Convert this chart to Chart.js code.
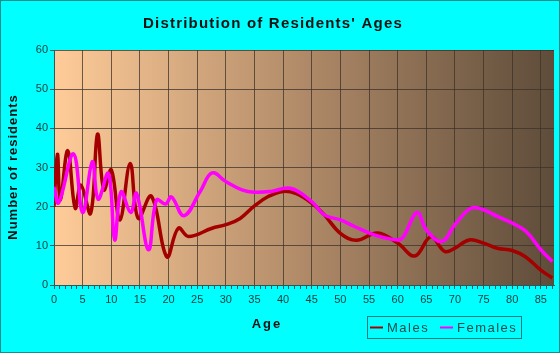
<!DOCTYPE html>
<html>
<head>
<meta charset="utf-8">
<script src="https://cdn.jsdelivr.net/npm/chart.js@4"></script>
<style>
  html, body { margin: 0; padding: 0; background: #00ffff; }
  #wrap { width: 560px; height: 353px; }
</style>
</head>
<body>
<div id="wrap"><canvas id="chart" width="560" height="353"></canvas></div>
<script>
// values
const titleText = "Distribution of Residents' Ages";
const xTitle = 'Age';
const yTitle = 'Number of residents';

const maleAges = [0, 0.6, 1.1, 2.4, 3.7, 4.7, 6.4, 7.6, 8.7, 10, 11.5, 13.3, 14.7, 17, 19.7, 21.7, 23.5, 27.6, 30, 32.5, 35, 37.4, 40, 42.3, 45, 47.2, 50, 52.8, 56.5, 60, 63, 65.8, 68.2, 70, 72.5, 75, 77.4, 80, 82.3, 85, 87];
const maleCounts = [20, 33.4, 21.7, 34.3, 19.6, 25.5, 18.3, 38.5, 24.3, 29.4, 16.6, 31, 17, 22.7, 7.2, 14.5, 12.4, 14.5, 15.4, 17, 20.2, 22.6, 23.9, 23.3, 20.9, 17.9, 13.2, 11.4, 13.3, 10.7, 7.4, 12.3, 8.6, 9.4, 11.5, 10.7, 9.4, 8.8, 7.2, 3.8, 1.8];

const femaleAges = [0, 0.8, 3.4, 5, 6.7, 7.7, 9.5, 10.6, 11.7, 13.4, 14.4, 16.5, 17.9, 19.5, 20.5, 22.7, 25.5, 27.6, 30, 32.8, 35, 37.9, 41.3, 45, 47.2, 50, 52.4, 55.9, 60, 61, 63.4, 65, 67.7, 70, 72.8, 75, 77.4, 80, 82.4, 85, 87];
const femaleCounts = [25, 21, 33.5, 18.5, 31.5, 21.9, 28.5, 11.5, 23.8, 18.5, 23.4, 9, 21.7, 20.7, 22.5, 17.7, 23.8, 28.6, 26.4, 24.3, 23.7, 23.9, 24.7, 21.3, 17.9, 16.6, 15, 12.8, 11.5, 12.3, 18.5, 14.1, 11.1, 15.4, 19.6, 19.2, 17.5, 15.8, 13.7, 9, 6];

const seriesNames = ['Males', 'Females'];
const seriesColors = ['#a50000', '#ff00ff'];

const toPoints = (xs, ys) => xs.map((x, i) => ({ x: x, y: ys[i] }));

// background, plot gradient and hand-placed texts
const decor = {
  id: 'decor',
  beforeDraw(chart) {
    const { ctx, chartArea: a, width, height } = chart;
    ctx.save();
    ctx.fillStyle = '#00ffff';
    ctx.fillRect(0, 0, width, height);
    ctx.strokeStyle = '#1a8c8c';
    ctx.lineWidth = 1;
    ctx.strokeRect(0.5, 0.5, width - 1, height - 1);
    const g = ctx.createLinearGradient(a.left, 0, a.right, 0);
    g.addColorStop(0, '#ffcc99');
    g.addColorStop(0.5, '#b08a68');
    g.addColorStop(1, '#5e4c3a');
    ctx.fillStyle = g;
    ctx.fillRect(a.left, a.top, a.right - a.left, a.bottom - a.top);
    ctx.restore();
  },
  afterDraw(chart) {
    const { ctx } = chart;
    ctx.save();
    ctx.fillStyle = '#111';
    ctx.textAlign = 'center';
    ctx.textBaseline = 'middle';
    ctx.font = 'bold 15px "Liberation Sans", Arial, sans-serif';
    ctx.letterSpacing = '1.2px';
    ctx.fillText(titleText, 273, 24);

    ctx.font = 'bold 13px "Liberation Sans", Arial, sans-serif';
    ctx.letterSpacing = '2px';
    ctx.fillText(xTitle, 267, 324);

    ctx.letterSpacing = '1px';
    ctx.translate(13, 167);
    ctx.rotate(-Math.PI / 2);
    ctx.fillText(yTitle, 0, 0);
    ctx.restore();

    // legend box
    ctx.save();
    ctx.strokeStyle = '#1a7a7a';
    ctx.lineWidth = 1;
    ctx.strokeRect(367.5, 316.5, 154, 22);
    ctx.font = '13px "Liberation Sans", Arial, sans-serif';
    ctx.letterSpacing = '1.5px';
    ctx.textAlign = 'left';
    ctx.textBaseline = 'middle';
    const items = [[370, 387], [440, 457]];
    items.forEach((p, i) => {
      ctx.strokeStyle = seriesColors[i];
      ctx.lineWidth = 2;
      ctx.beginPath();
      ctx.moveTo(p[0], 327.5);
      ctx.lineTo(p[0] + 13, 327.5);
      ctx.stroke();
      ctx.fillStyle = '#1d4a4a';
      ctx.fillText(seriesNames[i], p[1], 328);
    });
    ctx.restore();
  }
};

new Chart(document.getElementById('chart'), {
  type: 'line',
  data: {
    datasets: [
      {
        label: seriesNames[1],
        data: toPoints(femaleAges, femaleCounts),
        borderColor: seriesColors[1],
        borderWidth: 3.5,
        pointRadius: 0,
        tension: 0.4,
        fill: false,
      },
      {
        label: seriesNames[0],
        data: toPoints(maleAges, maleCounts),
        borderColor: seriesColors[0],
        borderWidth: 3.5,
        pointRadius: 0,
        tension: 0.4,
        fill: false,
      },
    ],
  },
  options: {
    responsive: false,
    animation: false,
    layout: { padding: { top: 50, left: 0, right: 6, bottom: 0 } },
    plugins: {
      legend: { display: false },
      title: { display: false },
      tooltip: { enabled: false },
    },
    scales: {
      x: {
        type: 'linear',
        min: 0,
        max: 87.3,
        afterFit(scale) { scale.height = 68; },
        afterBuildTicks(scale) {
          const t = [];
          for (let v = 0; v <= 87; v++) t.push({ value: v });
          scale.ticks = t;
        },
        ticks: {
          autoSkip: false,
          maxRotation: 0,
          padding: 4,
          color: '#1c3a3a',
          font: { family: '"Liberation Sans", Arial, sans-serif', size: 11 },
          callback: (v) => (v % 5 === 0 ? String(v) : ''),
        },
        grid: {
          color: (c) => (c.tick && c.tick.value % 5 === 0 ? 'rgba(60,50,40,0.75)' : 'rgba(0,0,0,0)'),
          tickColor: '#2a5a5a',
          tickLength: 4,
          lineWidth: 1,
        },
        border: { color: '#2a5a5a', width: 1 },
      },
      y: {
        min: 0,
        max: 60,
        afterFit(scale) { scale.width = 54; },
        ticks: {
          stepSize: 10,
          padding: 2,
          color: '#1c3a3a',
          font: { family: '"Liberation Sans", Arial, sans-serif', size: 11 },
        },
        grid: {
          color: 'rgba(60,50,40,0.75)',
          tickColor: '#2a5a5a',
          tickLength: 4,
        },
        border: { color: '#2a5a5a', width: 1 },
      },
    },
  },
  plugins: [decor],
});
</script>
</body>
</html>
